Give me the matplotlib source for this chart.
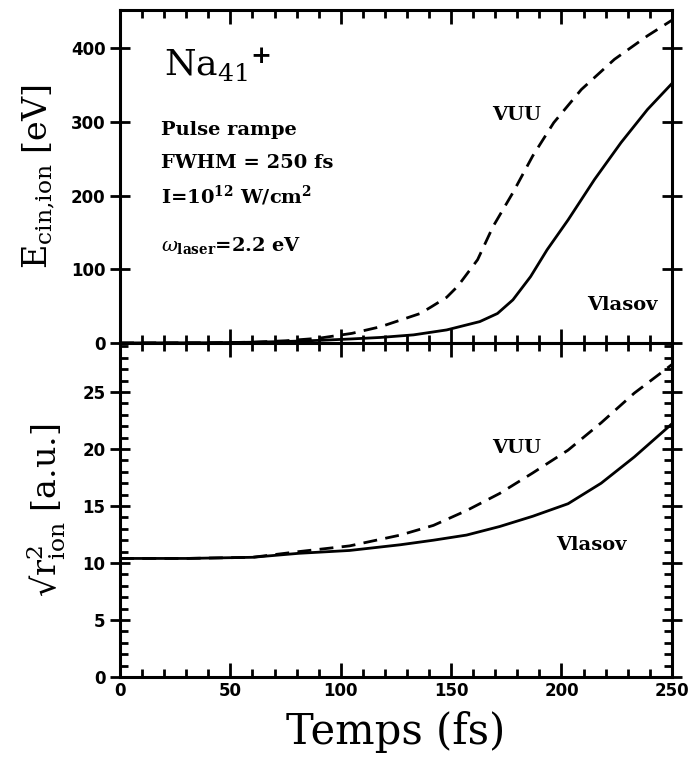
import numpy as np
import matplotlib
matplotlib.use('Agg')
import matplotlib.pyplot as plt
from matplotlib.ticker import MultipleLocator

plt.rcParams['font.family'] = 'DejaVu Serif'
plt.rcParams['mathtext.fontset'] = 'dejavuserif'

# kinetic energy of ions (eV)
t_ek_vlasov = [0, 40, 60, 75, 90, 105, 118, 133, 148, 163, 171, 178, 186, 193.5, 203, 215, 227, 239, 250]
ek_vlasov = [0, 0.3, 1, 2, 3.5, 5.5, 7.5, 11, 17.7, 29, 40, 58.5, 90, 126.5, 167, 222, 272, 317, 352]
t_ek_vuu = [0, 40, 60, 75, 90, 105, 118, 127, 136, 141, 148, 153, 162, 169, 178, 187, 196.5, 209, 224, 239, 250]
ek_vuu = [0, 0.3, 1, 3, 6.4, 13, 22, 31, 40, 49, 62, 77, 113, 158, 204, 254, 299, 344, 385, 417, 438]

# rms radius of ions (a.u.)
t_r_vlasov = [0, 30, 60, 81, 104, 127, 142, 157, 172, 187, 203, 218, 233, 250]
r_vlasov = [10.4, 10.4, 10.5, 10.85, 11.1, 11.6, 12.0, 12.45, 13.2, 14.1, 15.2, 17.0, 19.3, 22.2]
t_r_vuu = [0, 30, 60, 81, 104, 127, 142, 157, 172, 187, 203, 218, 233, 248, 250]
r_vuu = [10.4, 10.4, 10.5, 11.0, 11.5, 12.45, 13.3, 14.6, 16.1, 17.9, 19.9, 22.3, 24.9, 27.1, 27.4]

fig = plt.figure(figsize=(6.94, 7.63), dpi=100)
ax1 = fig.add_axes([0.173, 0.5505, 0.795, 0.4364])
ax2 = fig.add_axes([0.173, 0.1127, 0.795, 0.4378])

tickfont = {'family': 'DejaVu Sans', 'weight': 'bold', 'size': 12}

for ax in (ax1, ax2):
    for s in ax.spines.values():
        s.set_linewidth(2.2)
    ax.set_xlim(0, 250)
    ax.xaxis.set_major_locator(MultipleLocator(50))
    ax.xaxis.set_minor_locator(MultipleLocator(10))
    ax.tick_params(which='both', direction='in', top=True, right=True, width=2)
    ax.tick_params(which='major', length=10)
    ax.tick_params(which='minor', length=6)
    ax.tick_params(axis='y', which='major', direction='inout', length=14)

# top panel
ax1.plot(t_ek_vlasov, ek_vlasov, color='black', lw=2)
ax1.plot(t_ek_vuu, ek_vuu, color='black', lw=2, ls=(0, (5, 3)))
ax1.set_ylim(0, 452)
ax1.yaxis.set_major_locator(MultipleLocator(100))
ax1.set_xticklabels([])
ax1.set_ylabel(r'E$_{\mathrm{cin{,}ion}}$ [eV]', fontsize=24, labelpad=10)
for lab in ax1.get_yticklabels():
    lab.set_fontproperties(tickfont)

ax1.text(0.08, 0.80, r'Na$_{41}$$^{\mathbf{+}}$', transform=ax1.transAxes, fontsize=26)
ax1.text(0.075, 0.625, 'Pulse rampe', transform=ax1.transAxes, fontsize=14, fontweight='bold')
ax1.text(0.075, 0.525, 'FWHM = 250 fs', transform=ax1.transAxes, fontsize=14, fontweight='bold')
ax1.text(0.075, 0.42, r'I=10$^{\mathbf{12}}$ W/cm$^{\mathbf{2}}$', transform=ax1.transAxes,
         fontsize=14, fontweight='bold')
ax1.text(0.075, 0.275, r'$\omega_{\mathbf{laser}}$=2.2 eV', transform=ax1.transAxes,
         fontsize=14, fontweight='bold')
ax1.text(0.675, 0.67, 'VUU', transform=ax1.transAxes, fontsize=14, fontweight='bold')
ax1.text(0.847, 0.10, 'Vlasov', transform=ax1.transAxes, fontsize=14, fontweight='bold')

# bottom panel
ax2.plot(t_r_vlasov, r_vlasov, color='black', lw=2)
ax2.plot(t_r_vuu, r_vuu, color='black', lw=2, ls=(0, (5, 3)))
ax2.set_ylim(0, 29.3)
ax2.yaxis.set_major_locator(MultipleLocator(5))
ax2.yaxis.set_minor_locator(MultipleLocator(1))
ax2.set_ylabel('√r$^2_{\\mathrm{ion}}$ [a.u.]', fontsize=24, labelpad=10)
ax2.set_xlabel('Temps (fs)', fontsize=30, labelpad=8)
for lab in ax2.get_yticklabels() + ax2.get_xticklabels():
    lab.set_fontproperties(tickfont)
ax2.text(0.675, 0.67, 'VUU', transform=ax2.transAxes, fontsize=14, fontweight='bold')
ax2.text(0.79, 0.38, 'Vlasov', transform=ax2.transAxes, fontsize=14, fontweight='bold')

fig.savefig('out.png', dpi=100)
